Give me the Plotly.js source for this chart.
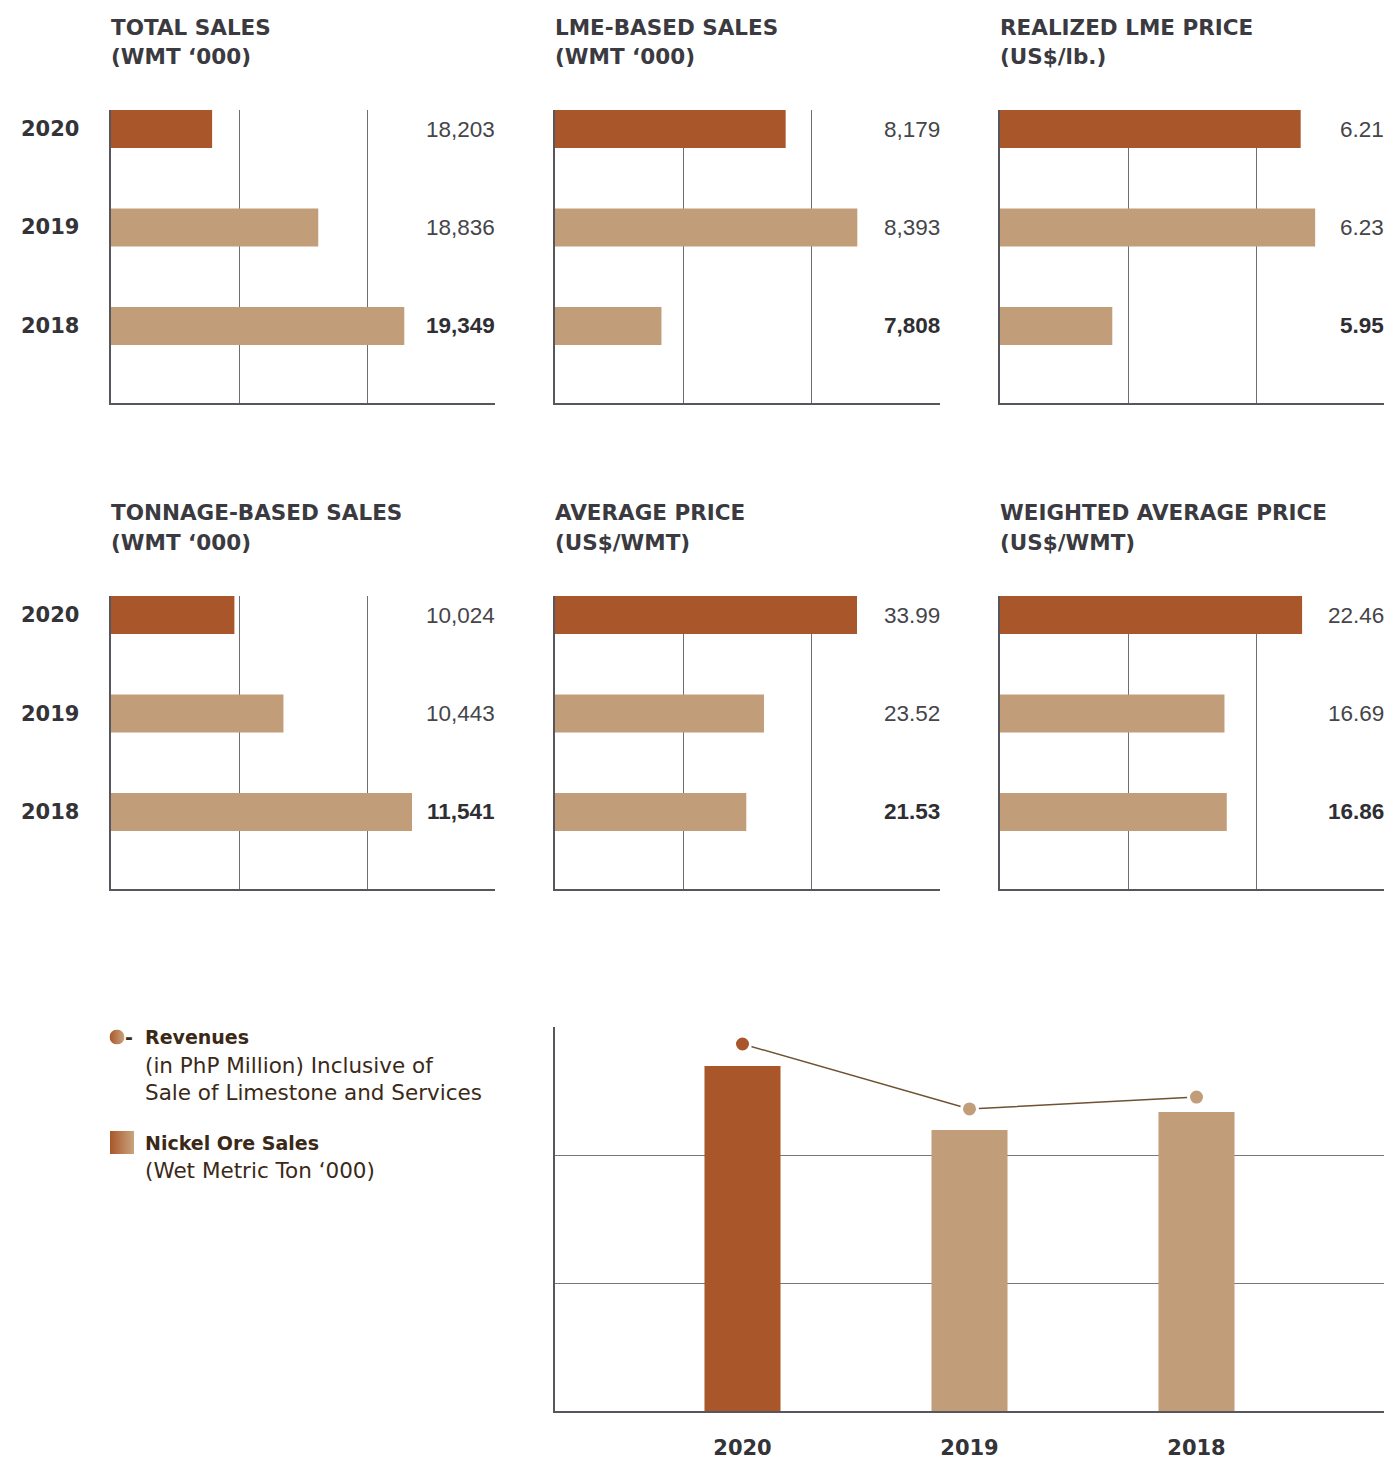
<!DOCTYPE html>
<html>
<head>
<meta charset="utf-8">
<script src="https://cdn.plot.ly/plotly-3.0.1.min.js"></script>
<style>
  html, body { margin: 0; padding: 0; background: #ffffff; }
  #chart { width: 1392px; height: 1459px; }
</style>
</head>
<body>
<div id="chart"></div>
<script>
// ---------- data ----------
const years = ['2020', '2019', '2018'];
const totalSales = [18203, 18836, 19349];
const lmeSales = [8179, 8393, 7808];
const lmePrice = [6.21, 6.23, 5.95];
const tonnageSales = [10024, 10443, 11541];
const avgPrice = [33.99, 23.52, 21.53];
const wAvgPrice = [22.46, 16.69, 16.86];
// bottom combo chart (no printed values)
const nickelOreSales = [18870, 15370, 16350];
const revenues = [20070, 16520, 17170];

const panelTitles = [
  ['TOTAL SALES', '(WMT ‘000)'],
  ['LME-BASED SALES', '(WMT ‘000)'],
  ['REALIZED LME PRICE', '(US$/lb.)'],
  ['TONNAGE-BASED SALES', '(WMT ‘000)'],
  ['AVERAGE PRICE', '(US$/WMT)'],
  ['WEIGHTED AVERAGE PRICE', '(US$/WMT)']
];
const legendRevenue = ['Revenues', '(in PhP Million) Inclusive of', 'Sale of Limestone and Services'];
const legendNickel = ['Nickel Ore Sales', '(Wet Metric Ton ‘000)'];

// ---------- styling ----------
const W = 1392, H = 1459;
const ORANGE = '#a9572a', TAN = '#c19d79';
const barColors = [ORANGE, TAN, TAN];
const AXIS = '#57565c', GRID = '#6e6e73';
const TITLE_FONT = 'DejaVu Sans';
const VAL_FONT = 'Liberation Sans, Arial, sans-serif';

const px = v => v / W;
const py = v => 1 - v / H;

const panelSeries = [totalSales, lmeSales, lmePrice, tonnageSales, avgPrice, wAvgPrice];
const panelFmt = ['int', 'int', 'dec', 'int', 'dec', 'dec'];
const panelRange = [[17600, 19890], [7490, 8640], [5.795, 6.325], [8970, 12250], [0, 43.33], [0, 28.55]];
const colX = [[111, 495], [555, 940], [1000, 1384]];
const rowY = [[110, 403], [596, 889]];
const titleY = [[27, 57], [513, 542]];

const traces = [];
const layout = {
  width: W, height: H,
  margin: {l: 0, r: 0, t: 0, b: 0, pad: 0},
  paper_bgcolor: '#ffffff', plot_bgcolor: '#ffffff',
  showlegend: false,
  annotations: [], images: []
};

function fmt(v, f) {
  return f === 'int' ? v.toLocaleString('en-US') : v.toFixed(2);
}

panelSeries.forEach((vals, i) => {
  const n = i + 1;
  const sx = n === 1 ? '' : String(n);
  const col = i % 3, row = Math.floor(i / 3);
  const [a, b] = panelRange[i];
  traces.push({
    type: 'bar', orientation: 'h',
    x: vals, y: years,
    xaxis: 'x' + sx, yaxis: 'y' + sx,
    width: 0.386,
    marker: {color: barColors, line: {width: 0}},
    hoverinfo: 'skip'
  });
  layout['xaxis' + sx] = {
    domain: [px(colX[col][0]), px(colX[col][1])],
    anchor: 'y' + sx,
    range: [a, b],
    showline: true, linecolor: AXIS, linewidth: 2,
    showgrid: true, gridcolor: GRID, gridwidth: 1,
    tickmode: 'array', tickvals: [a + (b - a) / 3, a + 2 * (b - a) / 3],
    showticklabels: false, ticks: '', zeroline: false,
    layer: 'below traces', fixedrange: true
  };
  layout['yaxis' + sx] = {
    domain: [py(rowY[row][1]), py(rowY[row][0])],
    anchor: 'x' + sx,
    type: 'category', categoryorder: 'array', categoryarray: years,
    range: [2.782, -0.193],
    showline: true, linecolor: AXIS, linewidth: 2,
    showgrid: false, showticklabels: false, ticks: '', zeroline: false,
    layer: 'below traces', fixedrange: true
  };
  // titles
  panelTitles[i].forEach((t, k) => {
    layout.annotations.push({
      xref: 'paper', yref: 'paper', x: px(colX[col][0] - 2), y: py(titleY[row][k]),
      xanchor: 'left', yanchor: 'middle', showarrow: false,
      text: t,
      font: {family: TITLE_FONT, size: 21.5, color: '#3a3a40', weight: 700}
    });
  });
  // value labels (category axis: positions are category indices)
  vals.forEach((v, k) => {
    const bold = k === 2;
    layout.annotations.push({
      xref: 'paper', yref: 'y' + sx, x: px(colX[col][1] + 2), y: k,
      xanchor: 'right', yanchor: 'middle', showarrow: false,
      text: fmt(v, panelFmt[i]),
      font: {family: VAL_FONT, size: 22.5, color: bold ? '#2e2e33' : '#45454a', weight: bold ? 700 : 400}
    });
  });
  // year labels (left column only)
  if (col === 0) {
    years.forEach((yr, k) => {
      layout.annotations.push({
        xref: 'paper', yref: 'y' + sx, x: px(19), y: k,
        xanchor: 'left', yanchor: 'middle', showarrow: false,
        text: yr,
        font: {family: TITLE_FONT, size: 21, color: '#333338', weight: 700}
      });
    });
  }
});

// ---------- bottom combo chart ----------
traces.push({
  type: 'bar', x: years, y: nickelOreSales,
  xaxis: 'x7', yaxis: 'y7', width: 0.335,
  marker: {color: barColors, line: {width: 0}}, hoverinfo: 'skip'
});
traces.push({
  type: 'scatter', mode: 'lines+markers', x: years, y: revenues,
  xaxis: 'x7', yaxis: 'y7',
  line: {color: '#6e5232', width: 1.5},
  marker: {color: barColors, size: 16, line: {color: '#ffffff', width: 3}},
  cliponaxis: false, hoverinfo: 'skip'
});
layout.xaxis7 = {
  domain: [px(555), px(1384)], anchor: 'y7',
  type: 'category', categoryorder: 'array', categoryarray: years,
  range: [-0.826, 2.826],
  showline: true, linecolor: AXIS, linewidth: 2,
  showgrid: false, zeroline: false, ticks: '',
  ticklabelstandoff: 17,
  tickfont: {family: TITLE_FONT, size: 21, color: '#333338', weight: 700},
  layer: 'below traces', fixedrange: true
};
layout.yaxis7 = {
  domain: [py(1411), py(1027)], anchor: 'x7',
  range: [0, 21000],
  tickmode: 'array', tickvals: [7000, 14000],
  showgrid: true, gridcolor: '#77777b', gridwidth: 1,
  showline: true, linecolor: AXIS, linewidth: 2,
  showticklabels: false, ticks: '', zeroline: false,
  layer: 'below traces', fixedrange: true
};

// ---------- custom legend ----------
const LEG = '#3b2918';
function svgUri(s) { return 'data:image/svg+xml;charset=utf-8,' + encodeURIComponent(s); }
const grad = "<defs><linearGradient id='g' x1='0' y1='0' x2='1' y2='0'><stop offset='0' stop-color='#a9572a'/><stop offset='1' stop-color='#c9a47e'/></linearGradient></defs>";
layout.images.push({
  source: svgUri("<svg xmlns='http://www.w3.org/2000/svg' width='15' height='15' viewBox='0 0 15 15'>" + grad + "<circle cx='7.5' cy='7.5' r='7.5' fill='url(#g)'/></svg>"),
  xref: 'paper', yref: 'paper', x: px(109.5), y: py(1029.5), sizex: 15 / W, sizey: 15 / H,
  xanchor: 'left', yanchor: 'top', sizing: 'stretch', layer: 'above'
});
layout.images.push({
  source: svgUri("<svg xmlns='http://www.w3.org/2000/svg' width='24' height='23' viewBox='0 0 24 23' preserveAspectRatio='none'>" + grad + "<rect x='0' y='0' width='24' height='23' fill='url(#g)'/></svg>"),
  xref: 'paper', yref: 'paper', x: px(110), y: py(1131), sizex: 24 / W, sizey: 23 / H,
  xanchor: 'left', yanchor: 'top', sizing: 'stretch', layer: 'above'
});
layout.annotations.push({
  xref: 'paper', yref: 'paper', x: px(123), y: py(1037), xanchor: 'left', yanchor: 'middle',
  showarrow: false, text: '-', font: {family: TITLE_FONT, size: 19, color: LEG, weight: 700}
});
const legendLines = [
  [legendRevenue[0], 1037, true], [legendRevenue[1], 1065, false], [legendRevenue[2], 1092, false],
  [legendNickel[0], 1143, true], [legendNickel[1], 1170, false]
];
legendLines.forEach(([t, y, b]) => {
  layout.annotations.push({
    xref: 'paper', yref: 'paper', x: px(143), y: py(y), xanchor: 'left', yanchor: 'middle',
    showarrow: false, text: t,
    font: {family: TITLE_FONT, size: b ? 19 : 21.5, color: LEG, weight: b ? 700 : 400}
  });
});

Plotly.newPlot('chart', traces, layout, {staticPlot: true, displayModeBar: false});
</script>
</body>
</html>
